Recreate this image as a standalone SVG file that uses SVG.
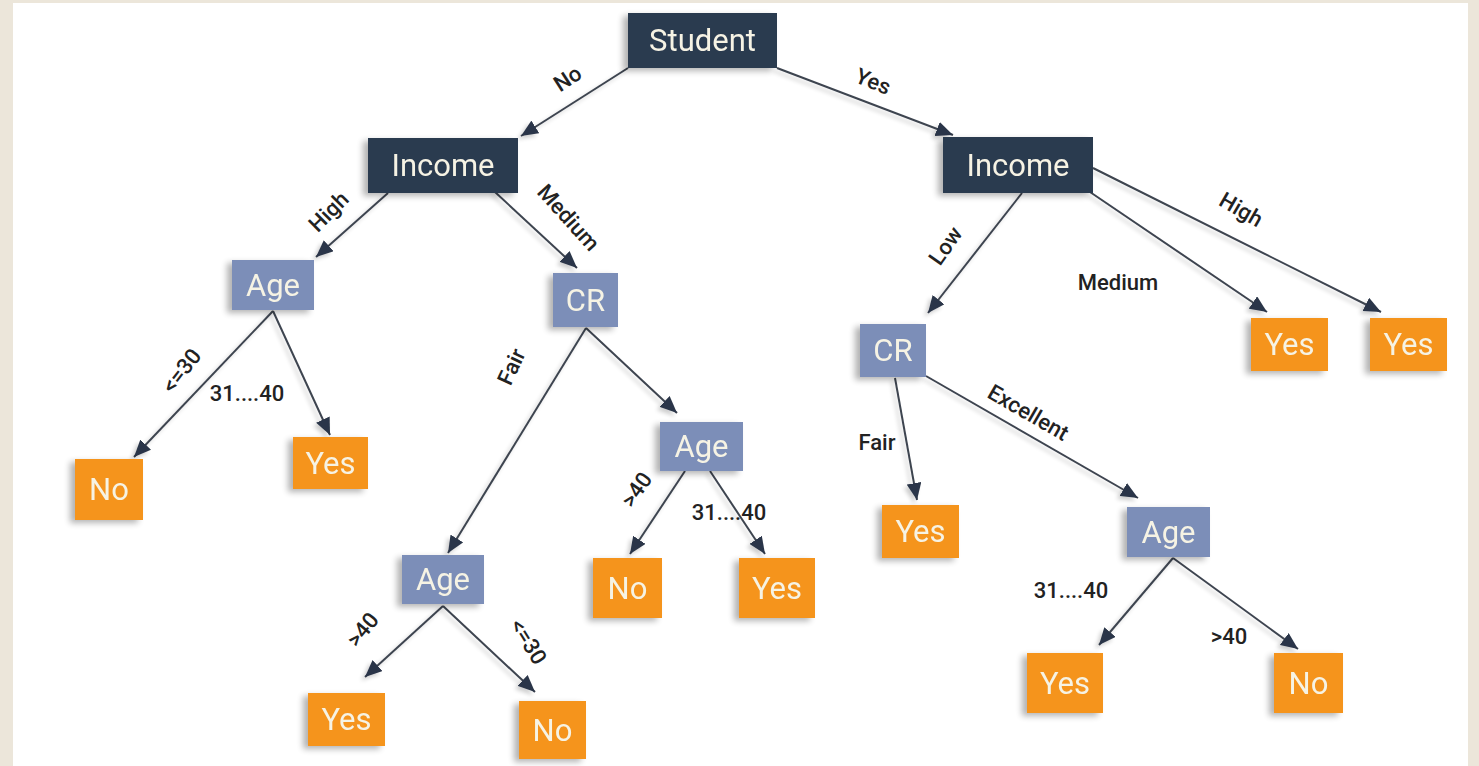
<svg xmlns="http://www.w3.org/2000/svg" width="1479" height="766" viewBox="0 0 1479 766">
<defs>
<style>
.dark{fill:#2c3a50}
.blue{fill:#7b8eb8}
.orange{fill:#f5941f}
.nt{font-family:Roboto,"Liberation Sans",sans-serif;font-size:31px;fill:#f6f3e4;text-anchor:middle}
.lb{font-family:Roboto,"Liberation Sans",sans-serif;font-size:22px;font-weight:500;fill:#222;text-anchor:middle}
.edge{stroke:#3e4450;stroke-width:2;fill:none;marker-end:url(#arr)}
</style>
<marker id="arr" viewBox="0 0 16 14" refX="16" refY="7" markerWidth="17" markerHeight="15" markerUnits="userSpaceOnUse" orient="auto">
<path d="M0,0 L16,7 L0,14 Z" fill="#2c3648"/>
</marker>
<filter id="sh" x="-20%" y="-20%" width="140%" height="150%">
<feGaussianBlur in="SourceAlpha" stdDeviation="3"/>
<feOffset dx="-5" dy="3" result="b"/>
<feComponentTransfer><feFuncA type="linear" slope="0.3"/></feComponentTransfer>
<feMerge><feMergeNode/><feMergeNode in="SourceGraphic"/></feMerge>
</filter>
<filter id="lsh" x="-10%" y="-10%" width="120%" height="120%">
<feGaussianBlur in="SourceAlpha" stdDeviation="2"/>
<feOffset dx="-3" dy="3" result="b"/>
<feComponentTransfer><feFuncA type="linear" slope="0.2"/></feComponentTransfer>
<feMerge><feMergeNode/><feMergeNode in="SourceGraphic"/></feMerge>
</filter>
</defs>
<rect x="0" y="0" width="1479" height="766" fill="#ece6da"/>
<rect x="13" y="3" width="1455" height="763" fill="#ffffff"/>

<g id="connectors" filter="url(#lsh)">
<line class="edge" x1="628" y1="68" x2="521" y2="136"/>
<line class="edge" x1="777" y1="68" x2="953" y2="135"/>
<line class="edge" x1="388" y1="193" x2="316" y2="257"/>
<line class="edge" x1="495" y1="192" x2="577" y2="268"/>
<line class="edge" x1="1022" y1="193" x2="928" y2="313"/>
<line class="edge" x1="1090" y1="192" x2="1267" y2="312"/>
<line class="edge" x1="1093" y1="168" x2="1381" y2="312"/>
<line class="edge" x1="273" y1="311" x2="134" y2="457"/>
<line class="edge" x1="273" y1="311" x2="330" y2="435"/>
<line class="edge" x1="586" y1="328" x2="448" y2="553"/>
<line class="edge" x1="586" y1="328" x2="677" y2="413"/>
<line class="edge" x1="685" y1="471" x2="630" y2="554"/>
<line class="edge" x1="710" y1="471" x2="765" y2="554"/>
<line class="edge" x1="895" y1="378" x2="917" y2="500"/>
<line class="edge" x1="926" y1="376" x2="1138" y2="498"/>
<line class="edge" x1="1173" y1="558" x2="1099" y2="645"/>
<line class="edge" x1="1173" y1="558" x2="1298" y2="649"/>
<line class="edge" x1="443" y1="606" x2="365" y2="677"/>
<line class="edge" x1="443" y1="606" x2="535" y2="692"/>
</g>

<g id="edge-labels">
<text class="lb" transform="translate(568,79) rotate(-33)" y="7">No</text>
<text class="lb" transform="translate(873,82) rotate(22)" y="7">Yes</text>
<text class="lb" transform="translate(329,212) rotate(-45)" y="7">High</text>
<text class="lb" transform="translate(568,218) rotate(48)" y="7">Medium</text>
<text class="lb" transform="translate(946,246) rotate(-55)" y="7">Low</text>
<text class="lb" x="1118" y="290">Medium</text>
<text class="lb" transform="translate(1241,210) rotate(30)" y="7">High</text>
<text class="lb" transform="translate(182,371) rotate(-52)" y="7">&lt;=30</text>
<text class="lb" x="247" y="401">31....40</text>
<text class="lb" transform="translate(512,367) rotate(-65)" y="7">Fair</text>
<text class="lb" transform="translate(637,490) rotate(-55)" y="7">&gt;40</text>
<text class="lb" x="729" y="520">31....40</text>
<text class="lb" x="877" y="450">Fair</text>
<text class="lb" transform="translate(1028,413) rotate(30)" y="7">Excellent</text>
<text class="lb" x="1071" y="598">31....40</text>
<text class="lb" x="1229" y="644">&gt;40</text>
<text class="lb" transform="translate(363,630) rotate(-50)" y="7">&gt;40</text>
<text class="lb" transform="translate(528,642) rotate(58)" y="7">&lt;=30</text>
</g>

<g id="n-student" filter="url(#sh)"><rect class="dark" x="628" y="13" width="149" height="55"/><text class="nt" x="702.5" y="51">Student</text></g>
<g id="n-income-l" filter="url(#sh)"><rect class="dark" x="368" y="138" width="150" height="55"/><text class="nt" x="443" y="176">Income</text></g>
<g id="n-income-r" filter="url(#sh)"><rect class="dark" x="943" y="137" width="150" height="56"/><text class="nt" x="1018" y="176">Income</text></g>
<g id="n-age-l" filter="url(#sh)"><rect class="blue" x="232" y="260" width="82" height="50"/><text class="nt" x="273" y="296">Age</text></g>
<g id="n-no-l" filter="url(#sh)"><rect class="orange" x="75" y="459" width="68" height="61"/><text class="nt" x="109" y="500">No</text></g>
<g id="n-yes-l" filter="url(#sh)"><rect class="orange" x="293" y="437" width="75" height="52"/><text class="nt" x="330.5" y="474">Yes</text></g>
<g id="n-cr-l" filter="url(#sh)"><rect class="blue" x="553" y="273" width="65" height="54"/><text class="nt" x="585.5" y="311">CR</text></g>
<g id="n-age-m" filter="url(#sh)"><rect class="blue" x="660" y="422" width="83" height="49"/><text class="nt" x="701.5" y="457">Age</text></g>
<g id="n-no-m" filter="url(#sh)"><rect class="orange" x="593" y="558" width="69" height="60"/><text class="nt" x="627.5" y="599">No</text></g>
<g id="n-yes-m" filter="url(#sh)"><rect class="orange" x="739" y="558" width="76" height="60"/><text class="nt" x="777" y="599">Yes</text></g>
<g id="n-age-b" filter="url(#sh)"><rect class="blue" x="402" y="555" width="82" height="49"/><text class="nt" x="443" y="590">Age</text></g>
<g id="n-yes-b" filter="url(#sh)"><rect class="orange" x="308" y="693" width="77" height="53"/><text class="nt" x="346.5" y="730">Yes</text></g>
<g id="n-no-b" filter="url(#sh)"><rect class="orange" x="519" y="701" width="67" height="58"/><text class="nt" x="552.5" y="741">No</text></g>
<g id="n-cr-r" filter="url(#sh)"><rect class="blue" x="860" y="324" width="66" height="53"/><text class="nt" x="893" y="361">CR</text></g>
<g id="n-yes-r1" filter="url(#sh)"><rect class="orange" x="1251" y="318" width="77" height="53"/><text class="nt" x="1289.5" y="355">Yes</text></g>
<g id="n-yes-r2" filter="url(#sh)"><rect class="orange" x="1370" y="318" width="77" height="53"/><text class="nt" x="1408.5" y="355">Yes</text></g>
<g id="n-yes-f" filter="url(#sh)"><rect class="orange" x="882" y="505" width="77" height="53"/><text class="nt" x="920.5" y="542">Yes</text></g>
<g id="n-age-r" filter="url(#sh)"><rect class="blue" x="1127" y="507" width="83" height="50"/><text class="nt" x="1168.5" y="543">Age</text></g>
<g id="n-yes-br" filter="url(#sh)"><rect class="orange" x="1027" y="653" width="76" height="60"/><text class="nt" x="1065" y="694">Yes</text></g>
<g id="n-no-br" filter="url(#sh)"><rect class="orange" x="1274" y="653" width="69" height="60"/><text class="nt" x="1308.5" y="694">No</text></g>
</svg>
